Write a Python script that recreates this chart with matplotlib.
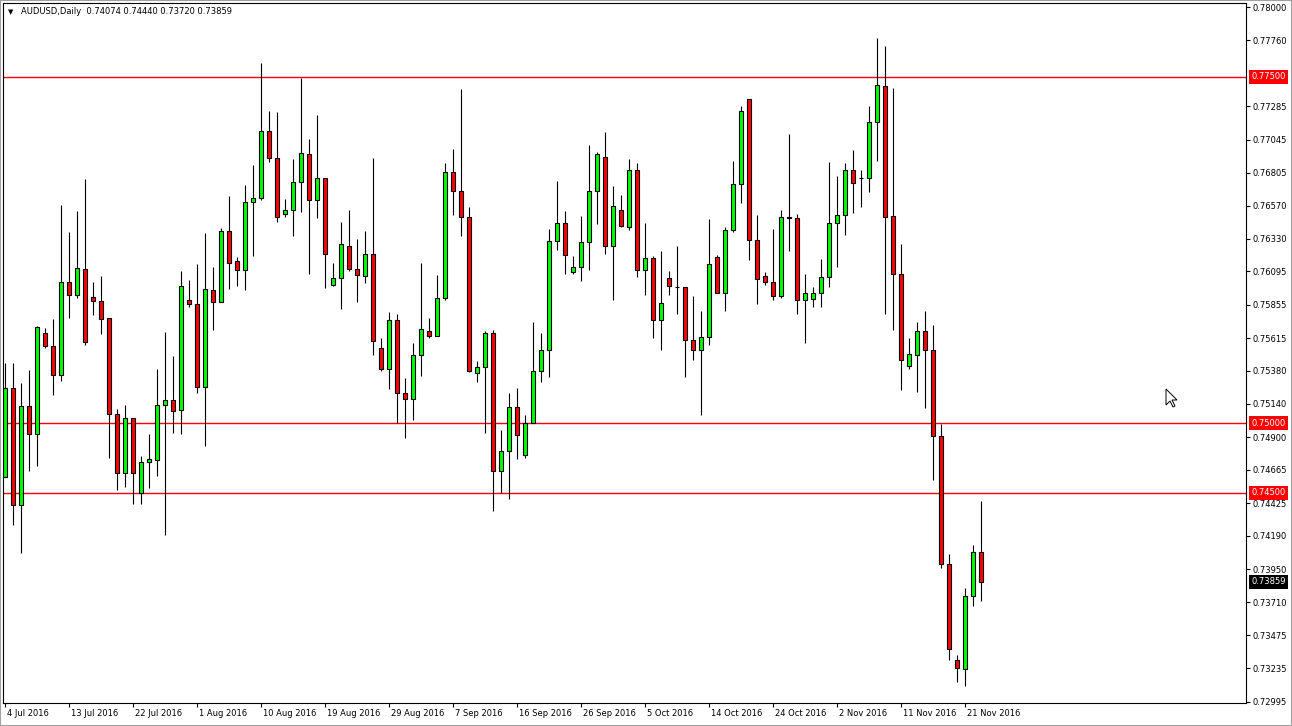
import matplotlib
matplotlib.use("Agg")
import numpy as np
import matplotlib.pyplot as plt
from matplotlib.patches import Polygon, Rectangle
from matplotlib.transforms import ScaledTranslation, blended_transform_factory

# AUDUSD daily candles, 4 Jul 2016 .. 23 Nov 2016 (broker feed with Sunday bars)
opens = [0.74617, 0.75252, 0.74410, 0.75125, 0.74924, 0.75649, 0.75559, 0.75352, 0.76017, 0.75927,
         0.76110, 0.75910, 0.75883, 0.75760, 0.75065, 0.74640, 0.75041, 0.74500, 0.74721, 0.74737,
         0.75131, 0.75172, 0.75095, 0.75890, 0.75863, 0.75265, 0.75963, 0.75876, 0.76388, 0.76174,
         0.76104, 0.76595, 0.76622, 0.77109, 0.76912, 0.76511, 0.76541, 0.76742, 0.76939, 0.76611,
         0.76768, 0.75997, 0.76050, 0.76281, 0.76110, 0.76064, 0.76224, 0.75542, 0.75392, 0.75743,
         0.75218, 0.75175, 0.75492, 0.75666, 0.75629, 0.75907, 0.76815, 0.76672, 0.76491, 0.75365,
         0.75409, 0.75653, 0.74660, 0.74804, 0.75118, 0.74774, 0.75001, 0.75379, 0.75529, 0.76317,
         0.76444, 0.76094, 0.76127, 0.76304, 0.76672, 0.76922, 0.76277, 0.76541, 0.76414, 0.76829,
         0.76104, 0.76190, 0.75743, 0.76050, 0.75982, 0.75980, 0.75600, 0.75526, 0.75623, 0.76197,
         0.75943, 0.76391, 0.76728, 0.77340, 0.76321, 0.76064, 0.76017, 0.75917, 0.76491, 0.76478,
         0.75890, 0.75900, 0.75940, 0.76057, 0.76448, 0.76505, 0.76829, 0.76768, 0.76768, 0.77169,
         0.77430, 0.76498, 0.76077, 0.75412, 0.75492, 0.75666, 0.75532, 0.74908, 0.73986, 0.73294,
         0.73231, 0.73755, 0.74074]
highs = [0.75439, 0.75439, 0.75292, 0.75385, 0.75703, 0.75686, 0.75750, 0.76575, 0.76381, 0.76528,
         0.76762, 0.76017, 0.76060, 0.75760, 0.75105, 0.75135, 0.75041, 0.74767, 0.74921, 0.75395,
         0.75656, 0.75489, 0.76097, 0.76037, 0.76147, 0.76371, 0.76130, 0.76411, 0.76638, 0.76200,
         0.76715, 0.76865, 0.77594, 0.77250, 0.77243, 0.76615, 0.76909, 0.77490, 0.77049, 0.77223,
         0.76768, 0.76157, 0.76454, 0.76541, 0.76331, 0.76384, 0.76912, 0.75616, 0.75803, 0.75790,
         0.75329, 0.75579, 0.76154, 0.75763, 0.76067, 0.76875, 0.76979, 0.77410, 0.76561, 0.75452,
         0.75663, 0.75673, 0.74954, 0.75222, 0.75258, 0.75061, 0.75733, 0.75653, 0.76398, 0.76748,
         0.76528, 0.76204, 0.76494, 0.77005, 0.76959, 0.77099, 0.76708, 0.76645, 0.76905, 0.76875,
         0.76441, 0.76204, 0.76244, 0.76097, 0.76277, 0.75980, 0.75917, 0.75807, 0.76474, 0.76217,
         0.76414, 0.76888, 0.77286, 0.77340, 0.76505, 0.76090, 0.76401, 0.76541, 0.77086, 0.76511,
         0.76074, 0.75986, 0.76184, 0.76882, 0.76782, 0.76875, 0.76969, 0.76823, 0.77286, 0.77777,
         0.77717, 0.77420, 0.76291, 0.75613, 0.75730, 0.75807, 0.75706, 0.74995, 0.74062, 0.73334,
         0.73812, 0.74122, 0.74440]
lows = [0.74617, 0.74266, 0.74069, 0.74660, 0.74694, 0.75542, 0.75208, 0.75305, 0.75763, 0.75903,
        0.75566, 0.75780, 0.75646, 0.74751, 0.74520, 0.74543, 0.74417, 0.74420, 0.74537, 0.74620,
        0.74193, 0.74931, 0.74924, 0.75840, 0.75218, 0.74834, 0.75673, 0.75873, 0.75970, 0.75990,
        0.75963, 0.76207, 0.76610, 0.76882, 0.76454, 0.76491, 0.76348, 0.76525, 0.76074, 0.76481,
        0.75973, 0.75990, 0.75823, 0.76097, 0.75873, 0.76010, 0.75496, 0.75379, 0.75245, 0.75001,
        0.74894, 0.75028, 0.75345, 0.75616, 0.75629, 0.75890, 0.76505, 0.76348, 0.75372, 0.75298,
        0.74931, 0.74366, 0.74500, 0.74457, 0.74744, 0.74751, 0.75001, 0.75302, 0.75338, 0.76247,
        0.76077, 0.76080, 0.76027, 0.76107, 0.76438, 0.76224, 0.75890, 0.76414, 0.76391, 0.76057,
        0.75924, 0.75613, 0.75526, 0.75924, 0.75790, 0.75332, 0.75456, 0.75058, 0.75563, 0.75940,
        0.75807, 0.76381, 0.76588, 0.76180, 0.75863, 0.75997, 0.75887, 0.75907, 0.76244, 0.75790,
        0.75576, 0.75836, 0.75836, 0.75980, 0.76124, 0.76358, 0.76515, 0.76561, 0.76668, 0.76888,
        0.75786, 0.75673, 0.75242, 0.75389, 0.75225, 0.75111, 0.74590, 0.73959, 0.73294, 0.73134,
        0.73104, 0.73682, 0.73720]
closes = [0.75252, 0.74410, 0.75125, 0.74924, 0.75693, 0.75559, 0.75352, 0.76017, 0.75927, 0.76117,
          0.75586, 0.75883, 0.75753, 0.75065, 0.74640, 0.75038, 0.74640, 0.74721, 0.74741, 0.75131,
          0.75168, 0.75091, 0.75990, 0.75863, 0.75265, 0.75970, 0.75876, 0.76388, 0.76154, 0.76107,
          0.76598, 0.76622, 0.77109, 0.76912, 0.76491, 0.76541, 0.76742, 0.76949, 0.76611, 0.76768,
          0.76221, 0.76050, 0.76291, 0.76114, 0.76070, 0.76224, 0.75596, 0.75389, 0.75743, 0.75218,
          0.75175, 0.75492, 0.75683, 0.75629, 0.75907, 0.76815, 0.76672, 0.76491, 0.75379, 0.75409,
          0.75649, 0.74660, 0.74804, 0.75118, 0.74918, 0.75001, 0.75379, 0.75529, 0.76317, 0.76444,
          0.76211, 0.76127, 0.76304, 0.76672, 0.76939, 0.76277, 0.76568, 0.76421, 0.76829, 0.76104,
          0.76190, 0.75743, 0.75870, 0.75993, 0.75982, 0.75600, 0.75526, 0.75623, 0.76147, 0.75943,
          0.76391, 0.76728, 0.77250, 0.76321, 0.76043, 0.76017, 0.75917, 0.76491, 0.76478, 0.75890,
          0.75940, 0.75940, 0.76057, 0.76448, 0.76505, 0.76829, 0.76732, 0.76768, 0.77169, 0.77437,
          0.76491, 0.76077, 0.75459, 0.75502, 0.75666, 0.75532, 0.74908, 0.73986, 0.73374, 0.73234,
          0.73755, 0.74074, 0.73859]

date_labels = ["4 Jul 2016", "13 Jul 2016", "22 Jul 2016", "1 Aug 2016", "10 Aug 2016",
               "19 Aug 2016", "29 Aug 2016", "7 Sep 2016", "16 Sep 2016", "26 Sep 2016",
               "5 Oct 2016", "14 Oct 2016", "24 Oct 2016", "2 Nov 2016", "11 Nov 2016",
               "21 Nov 2016"]
label_step = 8  # one date label every 8 bars

price_ticks = [0.78000, 0.77760, 0.77285, 0.77045, 0.76805, 0.76570, 0.76330, 0.76095,
               0.75855, 0.75615, 0.75380, 0.75140, 0.74900, 0.74665, 0.74425, 0.74190,
               0.73950, 0.73710, 0.73475, 0.73235, 0.72995]
level_lines = [0.77500, 0.75000, 0.74500]
header = "AUDUSD,Daily  0.74074 0.74440 0.73720 0.73859"

W, H = 1292, 726
fig = plt.figure(figsize=(W / 100, H / 100), dpi=100)
fig.patch.set_facecolor("white")
ax = fig.add_axes([3 / W, 23 / H, 1243 / W, 700 / H])

# candles
x = np.arange(len(opens))
o = np.array(opens)
c = np.array(closes)
colors = np.where(c > o, "#00ff00", np.where(c < o, "#ff0000", "black"))
ax.vlines(x, lows, highs, color="black", linewidth=0.8, zorder=3)
bottoms = np.minimum(o, c)
heights = np.maximum(np.abs(c - o), 0.00001)
ax.bar(x, heights, bottom=bottoms, width=0.5, color=colors, edgecolor="black",
       linewidth=0.8, zorder=4)

# horizontal levels
for lv in level_lines:
    ln = ax.axhline(lv, color="#ff0000", linewidth=1.0, zorder=2)
    ln.set_snap(True)

ax.set_xlim(-0.25, 155.1)
ax.set_ylim(0.72985, 0.78030)

# right price scale
ax.yaxis.tick_right()
ax.set_yticks(price_ticks)
ax.set_yticklabels([f"{p:.5f}" for p in price_ticks])
ax.tick_params(axis="y", length=3, width=0.8, labelsize=6, pad=2, colors="black")

# bottom date scale
ax.set_xticks(np.arange(len(date_labels)) * label_step)
ax.set_xticklabels(date_labels, ha="left")
ax.tick_params(axis="x", length=3, width=0.8, labelsize=6, pad=1.5, colors="black")
shift = ScaledTranslation(2 / 100, 0, fig.dpi_scale_trans)
for lbl in ax.get_xticklabels():
    lbl.set_transform(lbl.get_transform() + shift)

for sp in ax.spines.values():
    sp.set_color("black")
    sp.set_linewidth(0.8)

# price labels for the level lines and the last price
trans = blended_transform_factory(ax.transAxes, ax.transData)
for lv in level_lines:
    ax.text(1.0 + 5 / 1243, lv, f"{lv:.5f}", transform=trans, ha="left", va="center",
            fontsize=6, color="white", clip_on=False, zorder=10,
            bbox=dict(boxstyle="square,pad=0.3", fc="#ff0000", ec="none"))
ax.text(1.0 + 5 / 1243, closes[-1], f"{closes[-1]:.5f}", transform=trans, ha="left",
        va="center", fontsize=6, color="white", clip_on=False, zorder=10,
        bbox=dict(boxstyle="square,pad=0.3", fc="black", ec="none"))

# header
fig.text(8 / W, 1 - 12 / H, "\u25bc", fontsize=5, va="center", ha="left", color="black")
fig.text(21 / W, 1 - 12 / H, header, fontsize=6, va="center", ha="left", color="black")

# window frame
fig.patches.append(Rectangle((0, 0), 1, 1, transform=fig.transFigure, fill=False,
                             edgecolor="#a0a0a0", linewidth=1.5))

# mouse pointer
tip_x, tip_y = 1166, 389
shape = [(0, 0), (0, 16), (4, 12), (7, 18), (9, 17), (6, 11), (11, 11)]
pts = [((tip_x + dx) / W, 1 - (tip_y + dy) / H) for dx, dy in shape]
fig.patches.append(Polygon(pts, closed=True, transform=fig.transFigure,
                           facecolor="white", edgecolor="black", linewidth=0.7))

fig.savefig("out.png", dpi=100)
